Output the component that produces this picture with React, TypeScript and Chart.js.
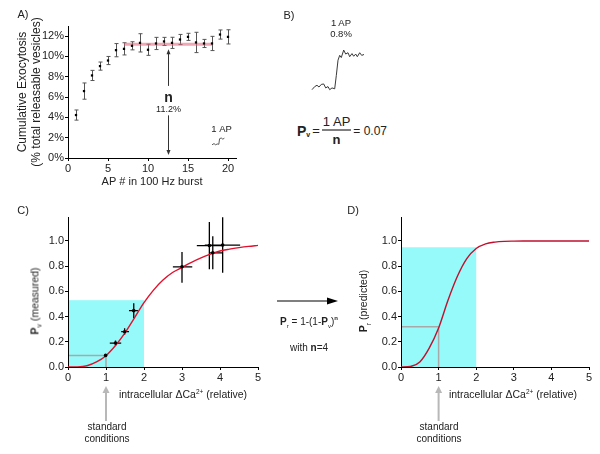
import React, { useEffect, useRef } from "react";
import { Chart, registerables } from "chart.js";
Chart.register(...registerables);

const FONT = "'Liberation Sans', Arial, Helvetica, sans-serif";
const TXT = "#222";

// ---------- Panel A data ----------
const apNumbers = [1, 2, 3, 4, 5, 6, 7, 8, 9, 10, 11, 12, 13, 14, 15, 16, 17, 18, 19, 20];
const cumExoMean = [4.23, 6.59, 8.13, 9.05, 9.6, 10.62, 10.75, 11.05, 11.34, 10.66, 11.28, 11.48, 11.34, 11.67, 11.93, 11.38, 11.28, 11.28, 12.16, 11.93];
const cumExoErr = [0.5, 0.8, 0.5, 0.4, 0.4, 0.65, 0.6, 0.4, 0.9, 0.55, 0.6, 0.4, 0.55, 0.5, 0.35, 1.0, 0.4, 0.7, 0.45, 0.7];
const plateauX = [7, 18];
const plateauValue = 11.2;
const nArrowX = 12.5;
const nArrowUp = [7.1, 10.7];
const nArrowDown = [4.2, 0.3];
const nLabelY = 5.5;
const nValueLabelY = 4.5;
const insetTraceX = [18.0, 18.25, 18.45, 18.65, 18.85, 18.95, 19.15, 19.35, 19.55];
const insetTraceY = [1.3, 1.42, 1.3, 1.38, 1.35, 1.9, 1.97, 1.86, 1.95];
const insetLabel = { x: 19.2, y: 2.6 };

// ---------- Panel B data ----------
const traceBTime = [0, 2.7, 5, 7, 9.3, 11.7, 13.7, 16, 17.7, 20, 22.7, 24.3, 26, 27.7, 29.3, 31.7, 33.7, 36, 37.7, 40, 41.7, 43.7, 45.3, 47.7, 49.7, 52];
const traceBValue = [-0.02, 0.05, 0.08, 0.04, 0.1, 0.11, 0.02, 0.05, -0.02, 0.02, 0, 0.3, 0.65, 0.76, 0.71, 0.88, 0.79, 0.82, 0.73, 0.8, 0.74, 0.79, 0.73, 0.82, 0.76, 0.78];

// ---------- Panel C data ----------
const caMeasured = [0.99, 1.25, 1.49, 1.73, 3.0, 3.72, 3.81, 4.07];
const pvMeasured = [0.092, 0.19, 0.28, 0.447, 0.795, 0.963, 0.906, 0.967];
const caLow = [0.99, 1.1, 1.4, 1.605, 2.76, 3.39, 3.71, 3.6];
const caHigh = [0.99, 1.4, 1.605, 1.84, 3.27, 4.05, 4.08, 4.53];
const pvLow = [0.092, 0.168, 0.255, 0.387, 0.668, 0.776, 0.776, 0.747];
const pvHigh = [0.092, 0.21, 0.308, 0.505, 0.913, 1.15, 1.037, 1.188];
const caCurve = [0, 0.25, 0.5, 0.75, 1, 1.25, 1.5, 1.75, 2, 2.25, 2.5, 2.75, 3, 3.25, 3.5, 3.75, 4, 4.25, 4.5, 4.75, 5];
const pvFit = [0, 0.001, 0.01, 0.04, 0.09, 0.17, 0.27, 0.39, 0.51, 0.61, 0.69, 0.75, 0.79, 0.83, 0.865, 0.895, 0.92, 0.935, 0.947, 0.957, 0.965];
const prPredicted = [0, 0.004, 0.04, 0.15, 0.31, 0.53, 0.72, 0.86, 0.94, 0.977, 0.991, 0.997, 0.999, 1, 1, 1, 1, 1, 1, 1, 1];
const cyanCaRange = [0, 2];
const cyanPvTop = 0.53;
const cyanPrTop = 0.95;
const standardCa = 1;
const standardPv = 0.092;
const standardPr = 0.32;

// ---------- helpers ----------
function axis(o: any) {
  return {
    type: "linear",
    min: o.min,
    max: o.max,
    ticks: {
      stepSize: o.step,
      includeBounds: false,
      autoSkip: false,
      maxRotation: 0,
      font: { family: FONT, size: o.tickSize ?? 11 },
      color: TXT,
      padding: o.tickPad ?? 1,
      callback: o.cb,
    },
    grid: { display: true, drawOnChartArea: false, drawTicks: true, tickLength: o.tickLen ?? 3, color: "#000", lineWidth: 1 },
    border: { display: true, color: "#000", width: 1 },
    title: o.title ?? { display: false },
    afterFit: (s: any) => {
      if (o.horizontal) s.height = o.size;
      else s.width = o.size;
    },
  };
}

function arrow(ctx: CanvasRenderingContext2D, x: number, yFrom: number, yTo: number, len: number, hw: number, color: string, lw: number) {
  const dir = yTo > yFrom ? 1 : -1;
  ctx.save();
  ctx.strokeStyle = color;
  ctx.fillStyle = color;
  ctx.lineWidth = lw;
  ctx.beginPath();
  ctx.moveTo(x, yFrom);
  ctx.lineTo(x, yTo - dir * len * 0.8);
  ctx.stroke();
  ctx.beginPath();
  ctx.moveTo(x, yTo);
  ctx.lineTo(x - hw, yTo - dir * len);
  ctx.lineTo(x + hw, yTo - dir * len);
  ctx.closePath();
  ctx.fill();
  ctx.restore();
}

function ChartBox({ left, top, width, height, make }: any) {
  const ref = useRef<HTMLCanvasElement>(null);
  useEffect(() => {
    const chart = new Chart(ref.current as HTMLCanvasElement, make());
    return () => chart.destroy();
  }, []);
  return <canvas ref={ref} width={width} height={height} style={{ position: "absolute", left, top, width, height }} />;
}

function T({ x, y, size = 10, children, rotate = false, weight = "normal", align = "center" }: any) {
  return (
    <div
      style={{
        position: "absolute",
        left: x,
        top: y,
        fontSize: size,
        fontWeight: weight,
        color: TXT,
        whiteSpace: "nowrap",
        lineHeight: 1,
        textAlign: align,
        transform: `translate(-50%,-50%)${rotate ? " rotate(-90deg)" : ""}`,
      }}
    >
      {children}
    </div>
  );
}

// ---------- Panel A ----------
function makeA() {
  const plugin = {
    id: "aDecor",
    beforeDatasetsDraw(chart: any) {
      const { ctx } = chart;
      const x = chart.scales.x, y = chart.scales.y;
      ctx.save();
      ctx.strokeStyle = "#555";
      ctx.lineWidth = 1;
      apNumbers.forEach((n, i) => {
        const px = Math.round(x.getPixelForValue(n)) + 0.5;
        const y1 = y.getPixelForValue(cumExoMean[i] + cumExoErr[i]);
        const y2 = y.getPixelForValue(cumExoMean[i] - cumExoErr[i]);
        ctx.beginPath();
        ctx.moveTo(px, y1); ctx.lineTo(px, y2);
        ctx.moveTo(px - 2, y1); ctx.lineTo(px + 2, y1);
        ctx.moveTo(px - 2, y2); ctx.lineTo(px + 2, y2);
        ctx.stroke();
      });
      ctx.restore();
    },
    afterDatasetsDraw(chart: any) {
      const { ctx } = chart;
      const x = chart.scales.x, y = chart.scales.y;
      const ax = Math.round(x.getPixelForValue(nArrowX)) + 0.5;
      arrow(ctx, ax, y.getPixelForValue(nArrowUp[0]), y.getPixelForValue(nArrowUp[1]), 5, 2, "#333", 1);
      arrow(ctx, ax, y.getPixelForValue(nArrowDown[0]), y.getPixelForValue(nArrowDown[1]), 5, 2, "#333", 1);
      ctx.save();
      ctx.fillStyle = TXT;
      ctx.textAlign = "center";
      ctx.textBaseline = "alphabetic";
      ctx.font = `bold 14px ${FONT}`;
      ctx.fillText("n", ax, y.getPixelForValue(nLabelY));
      ctx.font = `9px ${FONT}`;
      ctx.fillText("11.2%", ax, y.getPixelForValue(nValueLabelY));
      ctx.font = `9.5px ${FONT}`;
      ctx.fillText("1 AP", x.getPixelForValue(insetLabel.x), y.getPixelForValue(insetLabel.y));
      ctx.restore();
    },
  };
  return {
    type: "line",
    data: {
      datasets: [
        {
          data: apNumbers.map((n, i) => ({ x: n, y: cumExoMean[i] })),
          showLine: false,
          pointStyle: "rect",
          pointRadius: 1.6,
          backgroundColor: "#000",
          borderColor: "#000",
          borderWidth: 0,
          order: 0,
        },
        {
          data: plateauX.map((v) => ({ x: v, y: plateauValue })),
          borderColor: "rgba(225,95,120,0.55)",
          borderWidth: 3,
          pointRadius: 0,
          order: 2,
        },
        {
          data: insetTraceX.map((v, i) => ({ x: v, y: insetTraceY[i] })),
          borderColor: "#333",
          borderWidth: 0.8,
          pointRadius: 0,
          order: 1,
        },
      ],
    },
    options: {
      animation: false,
      responsive: false,
      events: [],
      layout: { padding: { top: 26, right: 14, bottom: 8, left: 0 } },
      plugins: { legend: { display: false }, tooltip: { enabled: false } },
      scales: {
        x: axis({
          min: 0, max: 21, step: 5, horizontal: true, size: 34, tickSize: 11, tickLen: 3, tickPad: 1,
          title: { display: true, text: "AP # in 100 Hz burst", color: TXT, font: { family: FONT, size: 11 }, padding: { top: 0, bottom: 3 } },
        }),
        y: axis({
          min: 0, max: 13, step: 2, size: 68, tickSize: 11, tickLen: 3, tickPad: 1, cb: (v: number) => v + "%",
          title: {
            display: true,
            text: ["Cumulative Exocytosis", "(% total releasable vesicles)"],
            color: TXT,
            font: { family: FONT, size: 12, lineHeight: 1.22 },
            padding: { top: 15, bottom: 0 },
          },
        }),
      },
    },
    plugins: [plugin],
  };
}

// ---------- Panel B ----------
function makeB() {
  return {
    type: "line",
    data: {
      datasets: [
        {
          data: traceBTime.map((t, i) => ({ x: t, y: traceBValue[i] })),
          borderColor: "#222",
          borderWidth: 0.9,
          pointRadius: 0,
          clip: false,
        },
      ],
    },
    options: {
      animation: false,
      responsive: false,
      events: [],
      layout: { padding: 4 },
      plugins: { legend: { display: false }, tooltip: { enabled: false } },
      scales: {
        x: { type: "linear", min: 0, max: 52, display: false },
        y: { type: "linear", min: -0.05, max: 0.95, display: false },
      },
    },
  };
}

// ---------- Panels C & D ----------
function makeCD(which: "C" | "D") {
  const isC = which === "C";
  const cyanTop = isC ? cyanPvTop : cyanPrTop;
  const guideY = isC ? standardPv : standardPr;
  const plugin = {
    id: "cdDecor" + which,
    beforeDraw(chart: any) {
      const { ctx } = chart;
      const x = chart.scales.x, y = chart.scales.y;
      const x0 = x.getPixelForValue(cyanCaRange[0]);
      const x1 = x.getPixelForValue(cyanCaRange[1]);
      const y0 = y.getPixelForValue(0);
      const y1 = y.getPixelForValue(cyanTop);
      ctx.save();
      ctx.fillStyle = "rgb(150,250,250)";
      ctx.fillRect(x0, y1, x1 - x0, y0 - y1);
      ctx.strokeStyle = "#a8a8a8";
      ctx.lineWidth = 1.5;
      const gx = x.getPixelForValue(standardCa);
      const gy = y.getPixelForValue(guideY);
      ctx.beginPath();
      ctx.moveTo(x0, gy); ctx.lineTo(gx, gy);
      ctx.moveTo(gx, gy); ctx.lineTo(gx, y0);
      ctx.stroke();
      ctx.restore();
    },
    beforeDatasetsDraw(chart: any) {
      if (!isC) return;
      const { ctx } = chart;
      const x = chart.scales.x, y = chart.scales.y;
      ctx.save();
      ctx.strokeStyle = "#000";
      ctx.lineWidth = 1.3;
      caMeasured.forEach((c, i) => {
        const px = x.getPixelForValue(c), py = y.getPixelForValue(pvMeasured[i]);
        ctx.beginPath();
        ctx.moveTo(x.getPixelForValue(caLow[i]), py); ctx.lineTo(x.getPixelForValue(caHigh[i]), py);
        ctx.moveTo(px, y.getPixelForValue(pvLow[i])); ctx.lineTo(px, y.getPixelForValue(pvHigh[i]));
        ctx.stroke();
      });
      ctx.restore();
    },
    afterDraw(chart: any) {
      const { ctx, chartArea } = chart;
      const gx = chart.scales.x.getPixelForValue(standardCa);
      arrow(ctx, gx, chartArea.bottom + 54, chartArea.bottom + 19, 7, 3.5, "#b8b8b8", 2);
    },
  };
  const datasets: any[] = [
    {
      data: caCurve.map((c, i) => ({ x: c, y: isC ? pvFit[i] : prPredicted[i] })),
      borderColor: isC ? "#e2102c" : "#c0102e",
      borderWidth: 1.4,
      pointRadius: 0,
      cubicInterpolationMode: "monotone",
      order: 1,
    },
  ];
  if (isC) {
    datasets.push({
      data: caMeasured.map((c, i) => ({ x: c, y: pvMeasured[i] })),
      showLine: false,
      pointRadius: 1.8,
      backgroundColor: "#000",
      borderWidth: 0,
      order: 0,
    });
  }
  return {
    type: "line",
    data: { datasets },
    options: {
      animation: false,
      responsive: false,
      events: [],
      layout: { padding: { top: 27, right: isC ? 12 : 11, bottom: 67, left: 0 } },
      plugins: { legend: { display: false }, tooltip: { enabled: false } },
      scales: {
        x: axis({ min: 0, max: 5, step: 1, horizontal: true, size: 20, tickSize: 11, tickLen: 3, tickPad: 1 }),
        y: axis({ min: 0, max: 1.19, step: 0.2, size: isC ? 68 : 71, tickSize: 11, tickLen: 3, tickPad: 1, cb: (v: number) => v.toFixed(1) }),
      },
    },
    plugins: [plugin],
  };
}

export default function App() {
  return (
    <div style={{ position: "absolute", left: 0, top: 0, width: 600, height: 454, background: "#fff", fontFamily: FONT, overflow: "hidden" }}>
      <ChartBox left={0} top={0} width={250} height={200} make={makeA} />
      <ChartBox left={308} top={43} width={60} height={52} make={makeB} />
      <ChartBox left={0} top={190} width={270} height={264} make={() => makeCD("C")} />
      <ChartBox left={330} top={190} width={270} height={264} make={() => makeCD("D")} />

      {/* panel labels */}
      <T x={23} y={14} size={11}>A)</T>
      <T x={289} y={15} size={11}>B)</T>
      <T x={23} y={210} size={11}>C)</T>
      <T x={353} y={210} size={11}>D)</T>

      {/* panel B texts */}
      <T x={341} y={23} size={9.5}>1 AP</T>
      <T x={341} y={34} size={9.5}>0.8%</T>
      <div style={{ position: "absolute", left: 297, top: 130, transform: "translateY(-50%)", display: "flex", alignItems: "center", fontSize: 13, color: TXT, whiteSpace: "nowrap", lineHeight: 1 }}>
        <span style={{ fontWeight: "bold", fontSize: 14 }}>P</span>
        <span style={{ fontSize: 7, fontWeight: "bold", position: "relative", top: 4 }}>v</span>
        <span style={{ margin: "0 2px" }}>=</span>
        <span style={{ display: "inline-flex", flexDirection: "column", alignItems: "center" }}>
          <span style={{ borderBottom: "1px solid #000", padding: "0 1px 2px" }}>1 AP</span>
          <span style={{ fontWeight: "bold", paddingTop: 2 }}>n</span>
        </span>
        <span style={{ marginLeft: 2, fontSize: 12 }}>= 0.07</span>
      </div>

      {/* middle arrow and formula */}
      <svg style={{ position: "absolute", left: 270, top: 290 }} width={80} height={20}>
        <line x1={7} y1={11} x2={62} y2={11} stroke="#000" strokeWidth={1.2} />
        <polygon points="68,11 57,7.5 57,14.5" fill="#000" />
      </svg>
      <T x={309} y={322} size={10}>
        <b>P</b><sub style={{ fontSize: 6 }}>r</sub> = 1-(1-<b>P</b><sub style={{ fontSize: 6 }}>v</sub>)<sup style={{ fontSize: 6, fontWeight: "bold" }}>n</sup>
      </T>
      <T x={309} y={348} size={10}>
        with <b>n</b>=4
      </T>

      {/* axis titles C */}
      <T x={35.5} y={301} size={10.5} rotate>
        <b>P</b><sub style={{ fontSize: 7 }}>v</sub> (measured)
      </T>
      <T x={183} y={394} size={10.5}>
        intracellular ΔCa<sup style={{ fontSize: 6.5 }}>2+</sup> (relative)
      </T>
      <T x={107} y={427} size={10}>standard</T>
      <T x={107} y={439} size={10}>conditions</T>

      {/* axis titles D */}
      <T x={365} y={301} size={10.5} rotate>
        <b>P</b><sub style={{ fontSize: 7 }}>r</sub> (predicted)
      </T>
      <T x={513} y={394} size={10.5}>
        intracellular ΔCa<sup style={{ fontSize: 6.5 }}>2+</sup> (relative)
      </T>
      <T x={439} y={427} size={10}>standard</T>
      <T x={439} y={439} size={10}>conditions</T>
    </div>
  );
}
